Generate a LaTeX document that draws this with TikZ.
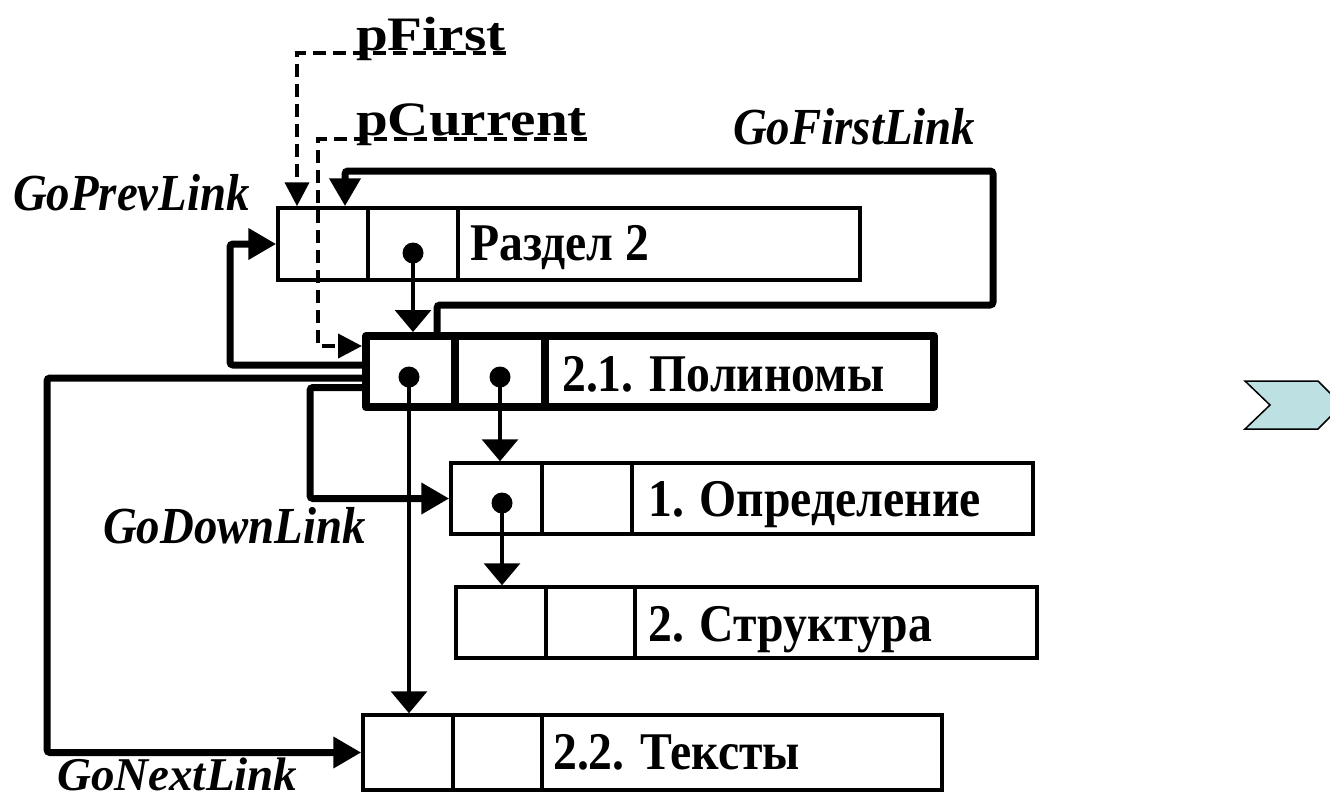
\documentclass[tikz,border=0pt]{standalone}
\usepackage{fontspec}
\setmainfont{Liberation Serif}
\newfontfamily\widefont[FakeStretch=1.19]{Liberation Serif}
\newfontfamily\tallfont[FakeStretch=0.9]{Liberation Serif}
\usetikzlibrary{arrows.meta}
\definecolor{chev}{HTML}{BDE0E3}
\begin{document}
\begin{tikzpicture}[x=1pt,y=-1pt,
  cell/.style={draw, line width=3.5pt, minimum height=71pt, inner sep=0pt},
  boldcell/.style={cell, line width=8pt, line join=round},
  dot/.style={circle, fill, minimum size=21pt, inner sep=0pt},
  rectext/.style={font=\fontsize{53}{60}\tallfont\bfseries, anchor=base west, inner sep=0pt},
  lbl/.style={font=\fontsize{52}{60}\tallfont\bfseries\itshape, anchor=base west, inner sep=0pt},
  ptr/.style={font=\fontsize{48}{56}\widefont\bfseries, anchor=base west, inner sep=0pt},
  thinarr/.style={line width=3.5pt, -{Triangle[length=22pt,width=36pt]}},
  boldarr/.style={line width=7pt, rounded corners=3pt, -{Triangle[length=28pt,width=30pt]}},
  dasharr/.style={line width=4pt, dash pattern=on 13pt off 7pt, -{Triangle[length=24pt,width=24pt]}}
]
\useasboundingbox (0,0) rectangle (1330,801);

% record "Раздел 2"
\node[cell, minimum width=90pt, minimum height=72pt] (R1) at (323,244) {};
\node[cell, minimum width=90pt, minimum height=72pt] (R2) at (413,244) {};
\node[cell, minimum width=402pt, minimum height=72pt] (R3) at (659,244) {};
\node[rectext] (tR) at (470,260) {Раздел 2};

% record "2.1. Полиномы"
\node[boldcell, minimum width=89pt] (P1) at (410.5,371.5) {};
\node[boldcell, minimum width=90pt] (P2) at (500,371.5) {};
\node[boldcell, minimum width=389pt] (P3) at (739.5,371.5) {};
\node[rectext] (tP) at (562,391) {2.1. Полиномы};

% record "1. Определение"
\node[cell, minimum width=91pt] (O1) at (496.5,498.5) {};
\node[cell, minimum width=90pt] (O2) at (587,498.5) {};
\node[cell, minimum width=401pt] (O3) at (832.5,498.5) {};
\node[rectext] (tO) at (648,516) {1. Определение};

% record "2. Структура"
\node[cell, minimum width=90pt] (S1) at (501,622.5) {};
\node[cell, minimum width=89pt] (S2) at (590.5,622.5) {};
\node[cell, minimum width=402pt] (S3) at (836,622.5) {};
\node[rectext] (tS) at (648,641) {2. Структура};

% record "2.2. Тексты"
\node[cell, minimum width=90pt, minimum height=75pt] (T1) at (408,752.5) {};
\node[cell, minimum width=89pt, minimum height=75pt] (T2) at (497.5,752.5) {};
\node[cell, minimum width=400pt, minimum height=75pt] (T3) at (742,752.5) {};
\node[rectext] (tT) at (553,769) {2.2. Тексты};

% dots
\node[dot] (dR) at (413,253) {};
\node[dot] (dP1) at (409,377) {};
\node[dot] (dP2) at (500,377) {};
\node[dot] (dO1) at (502,503) {};

% thin pointer arrows
\draw[thinarr] (dR.center) -- (dR.center |- P1.north);
\draw[thinarr] (dP1.center) -- (dP1.center |- T1.north);
\draw[thinarr] (dP2.center) -- (dP2.center |- O1.north);
\draw[thinarr] (dO1.center) -- (dO1.center |- S1.north);

% labels
\node[lbl] (lPrev) at (13,210) {GoPrevLink};
\node[lbl] (lFirst) at (733,144) {GoFirstLink};
\node[lbl] (lDown) at (103,543) {GoDownLink};
\node[lbl, font=\fontsize{47}{54}\selectfont\bfseries\itshape] (lNext) at (57,790) {GoNextLink};
\node[ptr] (pF) at (356,50) {pFirst};
\node[ptr] (pC) at (356,135) {pCurrent};

% bold navigation arrows
\coordinate (gf1) at (993,305);
\coordinate (gf2) at (345,171);
\draw[boldarr] ([xshift=26.5pt]P1.north) |- (gf1) |- (gf2) -- (gf2 |- R1.north);
\draw[boldarr] ([yshift=6.5pt]P1.west) -- ++(-132,0) |- (R1.west);
\draw[boldarr] ([yshift=-6.5pt]P1.west) -- ++(-315,0) |- (T1.west);
\draw[boldarr] ([yshift=-16pt]P1.west) -- ++(-52,0) |- (O1.west);

% dashed pointers
\draw[dasharr] ([yshift=-3pt]pF.base east) -| ([xshift=-26pt]R1.north);
\draw[dasharr] ([yshift=-4pt]pC.base east) -| ([xshift=-44pt,yshift=25.5pt]P1.west) -- ([yshift=25.5pt]P1.west);

% chevron
\begin{scope}
\clip (0,0) rectangle (1330,801);
\draw[fill=chev, line width=1.5pt] (1245,381) -- (1318,381) -- (1342,405) -- (1318,429) -- (1245,429) -- (1270,405) -- cycle;
\end{scope}
\end{tikzpicture}
\end{document}
